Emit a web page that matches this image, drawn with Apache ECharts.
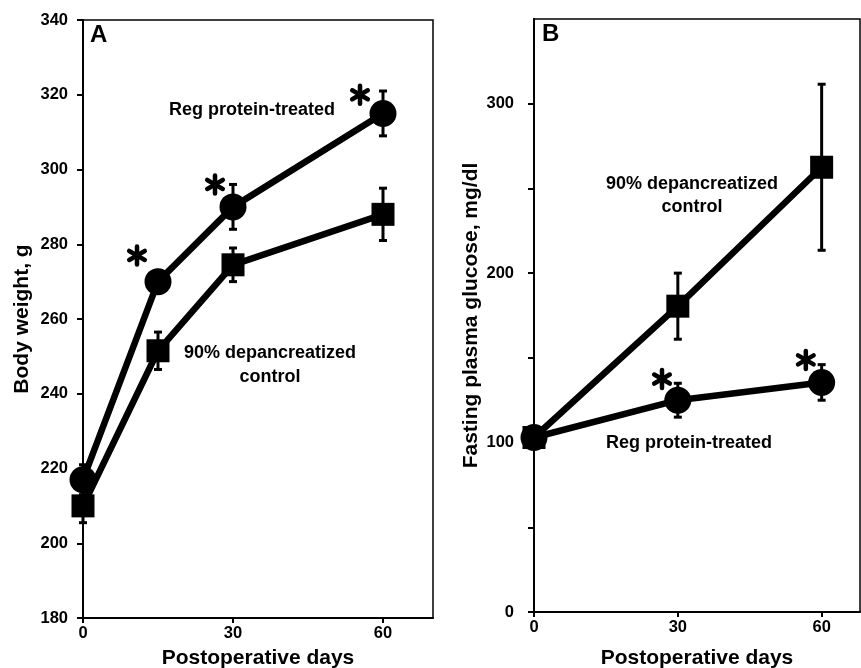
<!DOCTYPE html>
<html>
<head>
<meta charset="utf-8">
<script src="https://cdn.jsdelivr.net/npm/echarts@6/dist/echarts.min.js"></script>
<style>
  html, body { margin: 0; padding: 0; background: #fff; }
  #chart { width: 861px; height: 668px; }
</style>
</head>
<body>
<div id="chart"></div>
<script>
// panel A - body weight (g)
var daysA = [0, 15, 30, 60];
var weightReg = [217, 270, 290, 315];
var weightRegErr = [4, 3, 6, 6];
var weightCtrl = [210, 251.5, 274.5, 288];
var weightCtrlErr = [4.5, 5, 4.5, 7];
var starsA = [[10.8, 277], [26.4, 296], [55.4, 320]];

// panel B - fasting plasma glucose (mg/dl)
var daysB = [0, 30, 60];
var glucoseCtrl = [103, 180.5, 262.5];
var glucoseCtrlErr = [3, 19.5, 49];
var glucoseReg = [103, 125, 135.5];
var glucoseRegErr = [3, 10, 10.5];
var starsB = [[26.7, 137.5], [56.7, 148.8]];

// ticks
var dayTicks = [0, 30, 60];
var weightTicks = [180, 200, 220, 240, 260, 280, 300, 320, 340];
var glucoseTicks = [0, 50, 100, 150, 200, 250, 300];
var glucoseLabels = [0, 100, 200, 300];

var FONT = 'Liberation Sans, Arial, sans-serif';

function pairs(xs, ys) {
  return xs.map(function (x, i) { return [x, ys[i]]; });
}
function errs(xs, ys, es) {
  return xs.map(function (x, i) { return [x, ys[i] - es[i], ys[i] + es[i]]; });
}

function renderErr(params, api) {
  var x = api.value(0);
  var lo = api.coord([x, api.value(1)]);
  var hi = api.coord([x, api.value(2)]);
  var cap = 4;
  var st = { stroke: '#000', lineWidth: 3 };
  return {
    type: 'group',
    children: [
      { type: 'line', shape: { x1: lo[0], y1: lo[1], x2: hi[0], y2: hi[1] }, style: st },
      { type: 'line', shape: { x1: lo[0] - cap, y1: lo[1], x2: lo[0] + cap, y2: lo[1] }, style: st },
      { type: 'line', shape: { x1: hi[0] - cap, y1: hi[1], x2: hi[0] + cap, y2: hi[1] }, style: st }
    ]
  };
}

function renderStar(params, api) {
  var c = api.coord([api.value(0), api.value(1)]);
  var r = 9;
  var kids = [90, 30, -30].map(function (a) {
    var rad = a * Math.PI / 180;
    var dx = r * Math.cos(rad), dy = r * Math.sin(rad);
    return {
      type: 'line',
      shape: { x1: c[0] - dx, y1: c[1] - dy, x2: c[0] + dx, y2: c[1] + dy },
      style: { stroke: '#000', lineWidth: 4.5, lineCap: 'round' }
    };
  });
  return { type: 'group', children: kids };
}

var tickLabel = { color: '#000', fontFamily: FONT, fontWeight: 'bold', fontSize: 16.5 };
var axisName = { color: '#000', fontFamily: FONT, fontWeight: 'bold', fontSize: 21 };
var blackLine = { color: '#000', width: 2 };

function lineSeries(name, xi, data, symbol, size) {
  return {
    name: name,
    type: 'line',
    xAxisIndex: xi,
    yAxisIndex: xi,
    data: data,
    symbol: symbol,
    symbolSize: size,
    z: 3,
    lineStyle: { color: '#000', width: 6.5 },
    itemStyle: { color: '#000' },
    emphasis: { disabled: true }
  };
}
function errSeries(xi, data) {
  return {
    type: 'custom',
    xAxisIndex: xi,
    yAxisIndex: xi,
    renderItem: renderErr,
    encode: { x: 0, y: [1, 2] },
    data: data,
    z: 2,
    silent: true
  };
}
function starSeries(xi, data) {
  return {
    type: 'custom',
    xAxisIndex: xi,
    yAxisIndex: xi,
    renderItem: renderStar,
    encode: { x: 0, y: 1 },
    data: data,
    z: 4,
    silent: true
  };
}

function label(x, y, text) {
  return {
    type: 'text',
    style: {
      x: x, y: y, text: text,
      fill: '#000',
      font: 'bold 18px ' + FONT,
      textAlign: 'center',
      textVerticalAlign: 'middle'
    }
  };
}

var chart = echarts.init(document.getElementById('chart'));
chart.setOption({
  animation: false,
  backgroundColor: '#fff',
  grid: [
    { left: 83, top: 20, width: 350, height: 598, show: true, borderColor: '#000', borderWidth: 1.5, outerBoundsMode: 'none' },
    { left: 534, top: 19, width: 326, height: 593, show: true, borderColor: '#000', borderWidth: 1.5, outerBoundsMode: 'none' }
  ],
  xAxis: [
    {
      gridIndex: 0, type: 'value', min: 0, max: 70,
      name: 'Postoperative days', nameLocation: 'middle', nameGap: 30, nameTextStyle: axisName,
      axisLine: { lineStyle: blackLine },
      axisTick: { customValues: dayTicks, length: 5, lineStyle: blackLine },
      axisLabel: Object.assign({ customValues: dayTicks, margin: 7 }, tickLabel),
      splitLine: { show: false }
    },
    {
      gridIndex: 1, type: 'value', min: 0, max: 68,
      name: 'Postoperative days', nameLocation: 'middle', nameGap: 36, nameTextStyle: axisName,
      axisLine: { lineStyle: blackLine },
      axisTick: { customValues: dayTicks, length: 5, lineStyle: blackLine },
      axisLabel: Object.assign({ customValues: dayTicks, margin: 7 }, tickLabel),
      splitLine: { show: false }
    }
  ],
  yAxis: [
    {
      gridIndex: 0, type: 'value', min: 180, max: 340,
      name: 'Body weight, g', nameLocation: 'middle', nameGap: 50, nameTextStyle: axisName,
      axisLine: { lineStyle: blackLine },
      axisTick: { customValues: weightTicks, length: 6, lineStyle: blackLine },
      axisLabel: Object.assign({ customValues: weightTicks, margin: 15 }, tickLabel),
      splitLine: { show: false }
    },
    {
      gridIndex: 1, type: 'value', min: 0, max: 350,
      name: 'Fasting plasma glucose, mg/dl', nameLocation: 'middle', nameGap: 52, nameTextStyle: axisName,
      axisLine: { lineStyle: blackLine },
      axisTick: { customValues: glucoseTicks, length: 6, lineStyle: blackLine },
      axisLabel: Object.assign({ customValues: glucoseLabels, margin: 20 }, tickLabel),
      splitLine: { show: false }
    }
  ],
  graphic: [
    { type: 'text', left: 90, top: 23, style: { text: 'A', fill: '#000', font: 'bold 24px ' + FONT } },
    { type: 'text', left: 542, top: 22, style: { text: 'B', fill: '#000', font: 'bold 24px ' + FONT } },
    label(252, 110, 'Reg protein-treated'),
    label(270, 353, '90% depancreatized'),
    label(270, 377, 'control'),
    label(692, 184, '90% depancreatized'),
    label(692, 207, 'control'),
    label(689, 443, 'Reg protein-treated')
  ],
  series: [
    errSeries(0, errs(daysA, weightCtrl, weightCtrlErr)),
    errSeries(0, errs(daysA, weightReg, weightRegErr)),
    lineSeries('90% depancreatized control', 0, pairs(daysA, weightCtrl), 'rect', 23),
    lineSeries('Reg protein-treated', 0, pairs(daysA, weightReg), 'circle', 27),
    starSeries(0, starsA),
    errSeries(1, errs(daysB, glucoseCtrl, glucoseCtrlErr)),
    errSeries(1, errs(daysB, glucoseReg, glucoseRegErr)),
    lineSeries('90% depancreatized control', 1, pairs(daysB, glucoseCtrl), 'rect', 23),
    lineSeries('Reg protein-treated', 1, pairs(daysB, glucoseReg), 'circle', 27),
    starSeries(1, starsB)
  ]
});
</script>
</body>
</html>
